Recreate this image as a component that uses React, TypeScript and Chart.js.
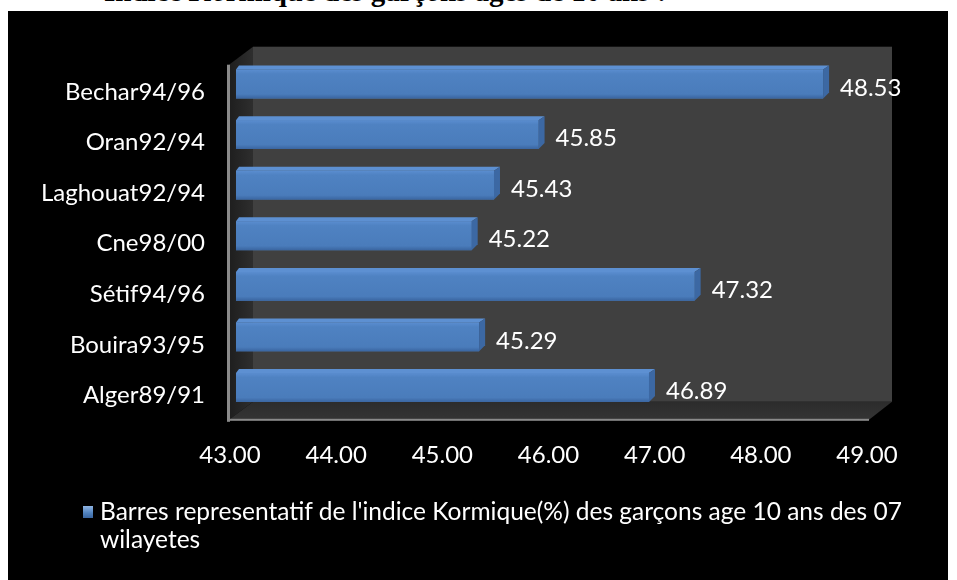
import React, { useEffect, useRef } from "react";
import { Chart, registerables } from "chart.js";

Chart.register(...registerables);

const categories = ["Bechar94/96", "Oran92/94", "Laghouat92/94", "Cne98/00", "Sétif94/96", "Bouira93/95", "Alger89/91"];
const values = [48.53, 45.85, 45.43, 45.22, 47.32, 45.29, 46.89];
const xMin = 43;
const xMax = 49;
const xStep = 1;
const seriesLine1 = "Barres representatif de l'indice Kormique(%) des garçons age 10 ans des 07";
const seriesLine2 = "wilayetes";
const titleText = "Indice Kormique des garçons âgés de 10 ans :";

const FONT = "Lato, 'Open Sans', sans-serif";
const FSIZE = 24;

const box3d = {
  id: "box3d",
  beforeDraw(chart: any) {
    const { ctx, width, height } = chart;
    ctx.save();
    ctx.fillStyle = "#000000";
    ctx.fillRect(0, 0, width, height);
    ctx.restore();
  },
  beforeDatasetsDraw(chart: any) {
    const { ctx, chartArea } = chart;
    const L = chartArea.left, R = chartArea.right, T = chartArea.top, B = chartArea.bottom;
    ctx.save();
    ctx.fillStyle = "#404040";
    ctx.fillRect(L + 17, T - 12, R + 19 - (L + 17), B - 11 - (T - 12));
    const lg = ctx.createLinearGradient(L - 7, 0, L + 17, 0);
    lg.addColorStop(0, "#1e1e1e");
    lg.addColorStop(1, "#2e2e2e");
    ctx.fillStyle = lg;
    ctx.beginPath();
    ctx.moveTo(L - 7, T + 6);
    ctx.lineTo(L + 17, T - 12);
    ctx.lineTo(L + 17, B - 11);
    ctx.lineTo(L - 7, B + 7);
    ctx.closePath();
    ctx.fill();
    const fg = ctx.createLinearGradient(0, B - 11, 0, B + 7);
    fg.addColorStop(0, "#2c2c2c");
    fg.addColorStop(1, "#343434");
    ctx.fillStyle = fg;
    ctx.beginPath();
    ctx.moveTo(L - 7, B + 7);
    ctx.lineTo(L + 17, B - 11);
    ctx.lineTo(R + 19, B - 11);
    ctx.lineTo(R - 4, B + 7);
    ctx.closePath();
    ctx.fill();
    ctx.fillStyle = "#8a8a8a";
    ctx.fillRect(L - 9, T + 6, 3, B + 7 - (T + 6) + 2);
    ctx.fillRect(L - 9, B + 6, R - 4 - (L - 9), 2);
    ctx.restore();
  },
  afterDatasetsDraw(chart: any) {
    const { ctx } = chart;
    const meta = chart.getDatasetMeta(0);
    const data = chart.data.datasets[0].data as number[];
    ctx.save();
    meta.data.forEach((el: any, i: number) => {
      const p = el.getProps(["x", "y", "base", "height"], true);
      const top = p.y - p.height / 2;
      const bot = p.y + p.height / 2;
      const d = 6, dy = 4;
      const g = ctx.createLinearGradient(0, top, 0, bot);
      g.addColorStop(0, "#5a8dd0");
      g.addColorStop(0.15, "#4f82c2");
      g.addColorStop(0.85, "#4a7cbb");
      g.addColorStop(1, "#3a65a0");
      ctx.fillStyle = g;
      ctx.fillRect(p.base, top, p.x - p.base, bot - top);
      ctx.fillStyle = "#5d90d2";
      ctx.beginPath();
      ctx.moveTo(p.base, top);
      ctx.lineTo(p.base + d * 0.5, top - dy);
      ctx.lineTo(p.x + d, top - dy);
      ctx.lineTo(p.x, top);
      ctx.closePath();
      ctx.fill();
      ctx.fillStyle = "#3c68a3";
      ctx.beginPath();
      ctx.moveTo(p.x, top);
      ctx.lineTo(p.x + d, top - dy);
      ctx.lineTo(p.x + d, bot - dy - 2);
      ctx.lineTo(p.x, bot);
      ctx.closePath();
      ctx.fill();
      ctx.fillStyle = "#ffffff";
      ctx.font = `${FSIZE}px ${FONT}`;
      ctx.textAlign = "left";
      ctx.textBaseline = "middle";
      ctx.fillText(data[i].toFixed(2), p.x + 17, p.y + 4);
    });
    ctx.restore();
  },
};

function ChartCanvas() {
  const ref = useRef<HTMLCanvasElement | null>(null);
  useEffect(() => {
    if (!ref.current) return;
    const chart = new Chart(ref.current, {
      type: "bar",
      data: {
        labels: categories,
        datasets: [
          {
            label: seriesLine1 + " " + seriesLine2,
            data: values,
            base: xMin,
            backgroundColor: "#4f81bd",
            borderWidth: 0,
            barPercentage: 0.57,
            categoryPercentage: 1,
          },
        ],
      },
      options: {
        indexAxis: "y",
        animation: false,
        responsive: false,
        maintainAspectRatio: false,
        layout: { padding: { top: 47.7, right: 75, bottom: 107.2, left: 0 } },
        plugins: {
          legend: { display: false },
          tooltip: { enabled: false },
          title: { display: false },
        },
        scales: {
          x: {
            type: "linear",
            min: xMin,
            max: xMax,
            grid: { display: false, drawTicks: false },
            border: { display: false },
            ticks: {
              stepSize: xStep,
              color: "#ffffff",
              font: { family: FONT, size: FSIZE },
              padding: 28,
              labelOffset: -6,
              maxRotation: 0,
              callback: (v: any) => Number(v).toFixed(2),
            },
            afterFit: (s: any) => {
              s.height = 60;
            },
          },
          y: {
            grid: { display: false, drawTicks: false },
            border: { display: false },
            ticks: {
              color: "#ffffff",
              font: { family: FONT, size: FSIZE },
              padding: 31,
              labelOffset: 8,
            },
            afterFit: (s: any) => {
              s.width = 228;
            },
          },
        },
      },
      plugins: [box3d],
    });
    return () => chart.destroy();
  }, []);
  return <canvas ref={ref} width={940} height={569} style={{ display: "block", width: 940, height: 569 }} />;
}

export default function App() {
  return (
    <div style={{ position: "fixed", left: 0, top: 0, width: 957, height: 580, background: "#ffffff", overflow: "hidden" }}>
      <div
        style={{
          position: "absolute",
          left: 104,
          top: -21,
          fontFamily: "'Liberation Serif', 'Times New Roman', serif",
          fontWeight: "bold",
          fontSize: 29,
          lineHeight: "24px",
          color: "#000",
          whiteSpace: "nowrap",
        }}
      >
        {titleText}
      </div>
      <div style={{ position: "absolute", left: 8, top: 11, width: 940, height: 569, background: "#000" }}>
        <ChartCanvas />
        <div
          style={{
            position: "absolute",
            left: 75,
            top: 486,
            display: "flex",
            alignItems: "flex-start",
            fontFamily: FONT,
            fontSize: 24.5,
            lineHeight: "28px",
            color: "#ffffff",
          }}
        >
          <span
            style={{
              display: "inline-block",
              width: 10,
              height: 12,
              marginTop: 9,
              marginRight: 7,
              background: "linear-gradient(#8fb4e3, #4f81bd 60%, #3a65a0)",
            }}
          />
          <div>
            <div style={{ whiteSpace: "nowrap" }}>{seriesLine1}</div>
            <div style={{ whiteSpace: "nowrap" }}>{seriesLine2}</div>
          </div>
        </div>
      </div>
    </div>
  );
}
